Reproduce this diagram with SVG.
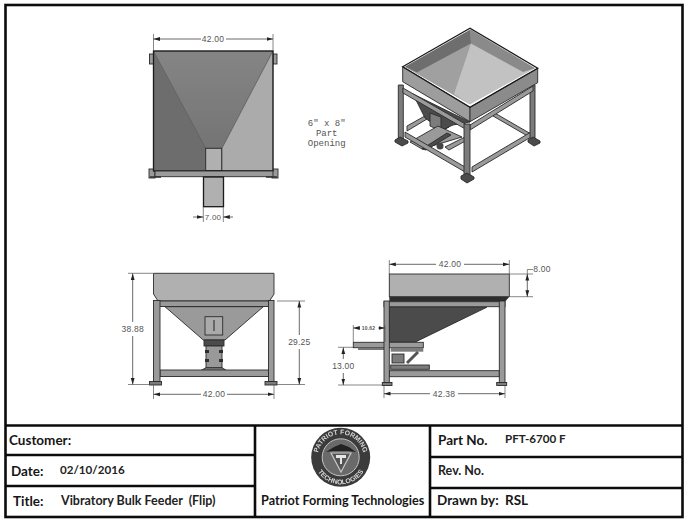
<svg xmlns="http://www.w3.org/2000/svg" width="689" height="525" viewBox="0 0 689 525">
<style>
.o{stroke:#2a2a2a;stroke-width:.9}
.h{stroke:#1a1a1a;stroke-width:1.3}
.g1{fill:#b0b0b0}.g2{fill:#9a9a9a}.g3{fill:#7c7c7c}.g4{fill:#4c4c4c}.g5{fill:#2e2e2e}
.dim{stroke:#555;stroke-width:.7;fill:none}
.arr{stroke:#444;stroke-width:.8;fill:none;marker-end:url(#a)}
.t{font:8.5px "Liberation Sans",Arial,sans-serif;fill:#555;text-anchor:middle;letter-spacing:.2px}
.note{font:9px "Liberation Mono",monospace;fill:#555;text-anchor:middle}
.b{font:bold 13.500px Lato,"Open Sans",sans-serif;fill:#161616}
.v{font:bold 11.600px Lato,"Open Sans",sans-serif;fill:#222}
.ln{stroke:#0c0c0c;stroke-width:2.6;fill:none}
.lg{font:bold 6.800px "Liberation Sans",sans-serif;fill:#d8d8d8;text-anchor:middle}
.soft{filter:url(#s)}
</style>
<defs>
<filter id="s" x="-5%" y="-5%" width="110%" height="110%"><feGaussianBlur stdDeviation=".35"/></filter>
<marker id="a" markerWidth="7" markerHeight="5" refX="6.500" refY="2.500" orient="auto" markerUnits="userSpaceOnUse"><path d="M0 .6L6.500 2.500L0 4.400z" fill="#222"/></marker>
<linearGradient id="tg" x1="0" y1="0" x2="0" y2="1"><stop offset="0" stop-color="#858585"/><stop offset="1" stop-color="#747474"/></linearGradient>
<path id="la" d="M324.400 473.600A23 23 0 1 1 357 473.600"/>
<path id="lb" d="M313.700 457.300A27 27 0 0 0 367.700 457.300"/>
</defs>
<rect width="689" height="525" fill="#fff"/>
<rect x="5.500" y="5" width="677" height="512" fill="none" stroke="#0c0c0c" stroke-width="2.600"/>

<g class="soft">
<g id="top-view">
<rect class="g2 o" x="149.500" y="54" width="4" height="10"/>
<rect class="g2 o" x="273" y="54" width="4" height="10"/>
<rect class="g2 o" x="149" y="169" width="6" height="9"/>
<rect class="g2 o" x="272" y="169" width="6" height="9"/>
<rect x="153.500" y="51" width="119.500" height="120" fill="#6d6d6d"/>
<path d="M153.500 51H273L222 148.300H205.700z" fill="url(#tg)" stroke="#555" stroke-width=".5"/>
<path d="M273 51V170.700H222V148.300z" fill="#ababab" stroke="#555" stroke-width=".5"/>
<rect class="g1 o" x="205.700" y="148.300" width="16" height="22.400"/>
<rect x="153.500" y="51" width="119.500" height="120" fill="none" class="h"/>
<rect x="155" y="171" width="118" height="5.700" fill="#9b9b9b" class="o"/>
<path d="M150 177H161M266 177H277" stroke="#333" stroke-width="1.500"/>
<rect class="g1 h" x="203.500" y="177" width="20" height="29.700"/>
</g>

<g id="iso-view">
<path class="g2 o" d="M493 112L531 134V138L493 116z"/>
<path class="g2 o" d="M407 126L432 112V116L407 131z"/>
<path class="g2 o" d="M422 137L445 125L449 127L426 140z"/>
<path class="g2 o" d="M445 147L465 137L469 139L449 150z"/>
<path class="g4 o" d="M413 94L470 122L453 125L442 130L425 118z"/>
<path class="g3 o" d="M430 113L441 117V131L430 126z"/>
<path class="g2 o" d="M410 142L438 126L462 137L422 149z"/>
<path class="g4 o" d="M422 149L447 133L451 135L426 150z"/>
<circle cx="440" cy="146" r="3.500" fill="#444"/>
<path class="g2 o" d="M405 132L465 167V172L405 137z"/>
<path class="g2 o" d="M472 167L531 132V137L472 172z"/>
<path class="g3 o" d="M398.300 85H403.300V139H398.300z"/>
<path class="g4 o" d="M395 140L400 137L408 141V143L402 146L395 142z"/>
<path class="g3 o" d="M530 85H535V139H530z"/>
<path class="g4 o" d="M528 140L533 137L540 141V143L534 146L528 142z"/>
<path class="g2 o" d="M403 88L467 125V130L403 93z"/>
<path class="g2 o" d="M470 125L533 86V91L470 130z"/>
<path class="g3 o" d="M464 124H470V176H464z"/>
<path class="g4 o" d="M461 176L467 173L474 177V179L467 183L461 179z"/>
<path class="o" d="M402.700 66.700L470 107.300V121.700L402.700 81.700z" fill="#9d9d9d"/>
<path class="o" d="M470 107.300L537.700 68.300V82.700L470 121.700z" fill="#8b8b8b"/>
<path d="M405 66.700L470.500 29.500L535 68.300L470 104.500z" fill="#c2c2c2"/>
<path d="M417 72.500L471 43.500L454 94L470 104.500L405 66.700z" fill="#a0a0a0"/>
<path d="M405 66.700L470.500 29.500L471 43.500L417 72.500z" fill="#6e6e6e"/>
<path d="M470.500 29.500L535 68.300L523 72L471 43.500z" fill="#8a8a8a"/>
<path class="h" d="M402.700 66.700L470 28.300L537.700 68.300L470 107.300z" fill="none"/>
</g>

<g id="front-view">
<path class="g1 o" d="M153.500 273.300H274V294L269.500 301H158L153.500 294z"/>
<rect class="g2 o" x="158" y="301" width="111" height="5.500"/>
<path class="g2 o" d="M165 306.700H263.300L225 340H203.300z"/>
<rect x="205" y="316.700" width="17.700" height="18.300" fill="#aaa" class="o"/>
<path d="M214 320V331" stroke="#222" stroke-width="1"/>
<rect class="g4 o" x="204" y="340" width="20" height="6"/>
<rect x="206" y="346" width="16" height="22" fill="#999" class="o"/>
<rect class="g5" x="205" y="350" width="4" height="3"/><rect class="g5" x="219" y="350" width="4" height="3"/>
<rect class="g5" x="205" y="359" width="4" height="3"/><rect class="g5" x="219" y="359" width="4" height="3"/>
<path class="g3 o" d="M200 371L206 367.700H222L227.300 371z"/>
<rect class="g2 o" x="160" y="370" width="108.500" height="6.500"/>
<rect class="g2 o" x="153.500" y="300.500" width="6.500" height="81"/>
<rect class="g2 o" x="268.500" y="300.500" width="5.500" height="81"/>
<rect class="g3 o" x="149.500" y="381.500" width="12" height="3.500"/>
<rect class="g3 o" x="265" y="381.500" width="12" height="3.500"/>
</g>

<g id="side-view">
<rect class="g1 o" x="389.300" y="274" width="120" height="22.700"/>
<path class="g5" d="M389.300 296.700H509.300L505 301.700H389.300z"/>
<path class="g4 o" d="M389.500 307.300H486.700L416 341.700H389.500z"/>
<rect class="g2 o" x="384" y="301.700" width="121" height="5"/>
<rect class="g2 o" x="353.300" y="342.300" width="70" height="5.400"/>
<rect x="358" y="347.700" width="27" height="2.300" fill="#777"/>
<rect class="g3" x="390.700" y="347.700" width="32.600" height="4"/>
<rect class="g3 o" x="392" y="354" width="12" height="9"/>
<path d="M407 363L418 352" stroke="#555" stroke-width="3"/>
<rect class="g3 o" x="390.700" y="365" width="38.600" height="4.300"/>
<rect class="g2 o" x="389.300" y="370.700" width="110" height="6"/>
<rect class="g2 o" x="384" y="301" width="5.300" height="81.700"/>
<rect class="g2 o" x="499.300" y="301" width="5.700" height="81.700"/>
<rect class="g3 o" x="382.300" y="382.500" width="9.700" height="3"/>
<rect class="g3 o" x="496.700" y="382.500" width="10" height="3"/>
</g>
</g>

<g id="dimensions">
<path class="dim" d="M153.500 34V51M273 34V51M203.300 207V222M223.300 207V222M128 273.300H153M128 384.500H150M153.500 385V399M274 385V399M277 301H305M277 384.500H305M389.300 260V274M509.300 260V274M510 274H533M510 296.700H533M353.300 325V342M385 325V342M338 347.300H353M338 385H382M384 386V398M505 386V398M527.300 274V269.500H533"/>
<path class="arr" d="M201 39H153.500"/><path class="arr" d="M226 39H273"/>
<path class="arr" d="M193 217H203.300"/><path class="arr" d="M233 217H223.300"/>
<path class="arr" d="M132.700 322V273.500"/><path class="arr" d="M132.700 336V384.500"/>
<path class="arr" d="M299.300 335V301"/><path class="arr" d="M299.300 349V384.500"/>
<path class="arr" d="M201 394.300H153.500"/><path class="arr" d="M227 394.300H274"/>
<path class="arr" d="M436 264.300H389.300"/><path class="arr" d="M464 264.300H509.300"/>
<path class="arr" d="M527.300 285V274"/><path class="arr" d="M527.300 285V296.700"/>
<path class="arr" d="M360 328H353.300"/><path class="arr" d="M378 328H385"/>
<path class="arr" d="M343.300 359V347.500"/><path class="arr" d="M343.300 373V385"/>
<path class="arr" d="M430 393.700H384"/><path class="arr" d="M458 393.700H505"/>
<text class="t" x="213" y="42">42.00</text>
<text class="t" x="213" y="220" style="font-size:8px">7.00</text>
<text class="t" x="132.700" y="332">38.88</text>
<text class="t" x="299.300" y="345">29.25</text>
<text class="t" x="214" y="397">42.00</text>
<text class="t" x="450" y="267">42.00</text>
<text class="t" x="542" y="272">8.00</text>
<text class="t" x="368.500" y="330" style="font-size:5px;font-weight:bold">10.62</text>
<text class="t" x="343.300" y="369">13.00</text>
<text class="t" x="444" y="397">42.38</text>
<text class="note" x="326.700" y="126">6" x 8"</text>
<text class="note" x="326.700" y="136">Part</text>
<text class="note" x="326.700" y="146">Opening</text>
</g>

<g id="title-block">
<path class="ln" d="M5.500 425.500H682.500M5.500 455H255M5.500 486H255M255 425.500V517M430 425.500V517M430 457H682.500M430 488H682.500"/>
<text class="b" x="9" y="445">Customer:</text>
<text class="b" x="11" y="476">Date:</text>
<text class="v" x="60" y="474">02/10/2016</text>
<text class="b" x="13" y="506">Title:</text>
<text class="v" x="61" y="505" style="font-size:12.500px;white-space:pre">Vibratory Bulk Feeder  (Flip)</text>
<text class="b" x="438" y="445">Part No.</text>
<text class="v" x="505" y="443">PFT-6700 F</text>
<text class="v" x="438" y="475" style="font-size:12.500px">Rev. No.</text>
<text class="b" x="437" y="505">Drawn by:</text>
<text class="b" x="505" y="505">RSL</text>
<text class="b" x="261" y="505" style="font-size:12.650px">Patriot Forming Technologies</text>
</g>

<g id="logo" class="soft">
<circle cx="340.700" cy="457.300" r="29.500" fill="#3a3a3a"/>
<circle cx="340.700" cy="457.300" r="18.500" fill="#6a6a6a" stroke="#c4c4c4" stroke-width="1"/>
<path d="M326 452L334 447L341 444L349 447L356 452L348 451H333z" fill="#222"/>
<path d="M331 453H351L341 472z" fill="#555" stroke="#c8c8c8" stroke-width="1.200"/>
<path d="M336 455H346V458H342V464H340V458H336z" fill="#e6e6e6"/>
<text class="lg"><textPath href="#la" startOffset="50%">PATRIOT FORMING</textPath></text>
<text class="lg"><textPath href="#lb" startOffset="50%">TECHNOLOGIES</textPath></text>
</g>
</svg>
